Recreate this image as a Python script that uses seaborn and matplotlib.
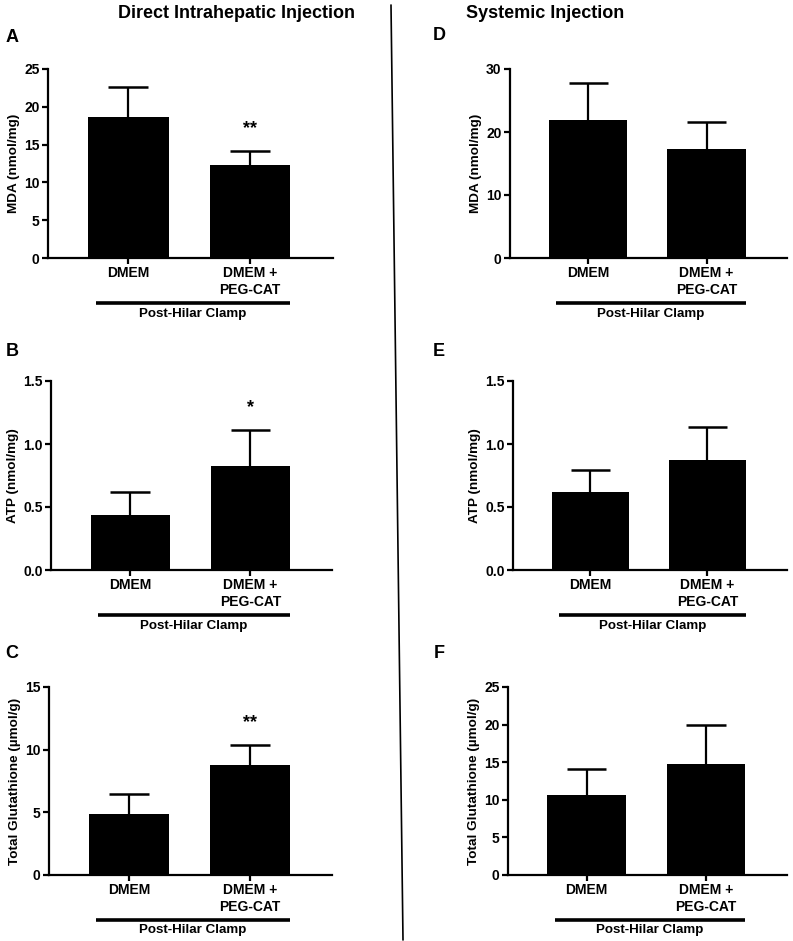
import matplotlib
matplotlib.use("Agg")
import matplotlib.pyplot as plt
import matplotlib.transforms as mtransforms
from matplotlib.lines import Line2D
import numpy as np
import seaborn as sns

# Data
groups = ["DMEM", "DMEM +\nPEG-CAT"]

mda_direct = [18.7, 12.3]
mda_direct_err = [3.95, 1.85]
atp_direct = [0.44, 0.825]
atp_direct_err = [0.18, 0.29]
gsh_direct = [4.87, 8.78]
gsh_direct_err = [1.6, 1.6]

mda_systemic = [21.9, 17.3]
mda_systemic_err = [5.9, 4.3]
atp_systemic = [0.62, 0.875]
atp_systemic_err = [0.17, 0.26]
gsh_systemic = [10.6, 14.75]
gsh_systemic_err = [3.5, 5.2]

# significance marks per panel (one per bar)
stars_A = ["", "**"]
stars_B = ["", "*"]
stars_C = ["", "**"]

sns.set_style("ticks")
plt.rcParams['font.family'] = ['Liberation Sans', 'DejaVu Sans']
plt.rcParams['font.weight'] = 'bold'
plt.rcParams['axes.labelweight'] = 'bold'
for key in ['text.color', 'axes.labelcolor', 'xtick.color', 'ytick.color',
            'axes.edgecolor', 'xtick.labelcolor', 'ytick.labelcolor']:
    plt.rcParams[key] = 'black'

W, H = 793, 941
fig = plt.figure(figsize=(W / 100, H / 100), dpi=100)


def px_rect(left, right, top, bottom):
    return [left / W, 1 - bottom / H, (right - left) / W, (bottom - top) / H]


def draw_panel(rect, values, errs, ylabel, yticks, fmt, stars=None):
    ax = fig.add_axes(rect)
    sns.barplot(x=groups, y=values, color="black", width=0.66,
                saturation=1, errorbar=None, linewidth=0, ax=ax)
    for p in ax.patches:
        p.set_zorder(3)
    # upper-only SEM whiskers
    xs = np.arange(len(values))
    tops = np.array(values) + np.array(errs)
    ax.vlines(xs, values, tops, color="black", lw=1.6, zorder=1)
    ax.hlines(tops, xs - 0.165, xs + 0.165, color="black", lw=1.8, zorder=1)

    ax.set_xlim(-0.66, 1.68)
    ax.set_ylim(yticks[0], yticks[-1])
    ax.set_yticks(yticks)
    ax.set_yticklabels([fmt.format(t) for t in yticks])
    ax.set_ylabel(ylabel, fontsize=9.7, fontweight="bold", labelpad=3)
    ax.tick_params(axis="both", labelsize=10, width=1.6, length=4, pad=2)
    for lab in ax.get_xticklabels() + ax.get_yticklabels():
        lab.set_fontweight("bold")
    sns.despine(ax=ax)
    ax.spines["left"].set_linewidth(1.6)
    ax.spines["bottom"].set_linewidth(1.6)

    if stars:
        for i, s in enumerate(stars):
            if s:
                ax.annotate(s, (i, tops[i]), xytext=(0, 10),
                            textcoords="offset points", ha="center", va="bottom",
                            fontsize=13, fontweight="bold")

    # group bar with "Post-Hilar Clamp"
    h = rect[3] * H
    trans = mtransforms.blended_transform_factory(ax.transData, ax.transAxes)
    ax.add_line(Line2D([-0.27, 1.33], [-45 / h, -45 / h], transform=trans,
                       color="black", lw=2.6, solid_capstyle="butt",
                       clip_on=False))
    ax.text(0.53, -55.5 / h, "Post-Hilar Clamp", transform=trans, ha="center",
            va="center", fontsize=9.6, fontweight="bold")
    return ax


draw_panel(px_rect(48, 333, 69, 258), mda_direct, mda_direct_err,
           "MDA (nmol/mg)", [0, 5, 10, 15, 20, 25], "{:g}", stars_A)
draw_panel(px_rect(51, 332, 381, 570), atp_direct, atp_direct_err,
           "ATP (nmol/mg)", [0.0, 0.5, 1.0, 1.5], "{:.1f}", stars_B)
draw_panel(px_rect(49, 332, 687, 875), gsh_direct, gsh_direct_err,
           "Total Glutathione (µmol/g)", [0, 5, 10, 15], "{:g}", stars_C)

draw_panel(px_rect(510, 787, 69, 258), mda_systemic, mda_systemic_err,
           "MDA (nmol/mg)", [0, 10, 20, 30], "{:g}")
draw_panel(px_rect(513, 787, 381, 570), atp_systemic, atp_systemic_err,
           "ATP (nmol/mg)", [0.0, 0.5, 1.0, 1.5], "{:.1f}")
draw_panel(px_rect(508, 787, 687, 875), gsh_systemic, gsh_systemic_err,
           "Total Glutathione (µmol/g)", [0, 5, 10, 15, 20, 25], "{:g}")

# column titles
fig.text(237 / W, 1 - 13 / H, "Direct Intrahepatic Injection", ha="center",
         va="center", fontsize=13, fontweight="bold")
fig.text(545 / W, 1 - 13 / H, "Systemic Injection", ha="center",
         va="center", fontsize=13, fontweight="bold")

# panel letters
for letter, x, y in [("A", 12, 38), ("B", 12, 351), ("C", 12, 654),
                     ("D", 439, 36), ("E", 439, 352), ("F", 439, 654)]:
    fig.text(x / W, 1 - y / H, letter, ha="center", va="center",
             fontsize=13, fontweight="bold")

# divider between the two columns
fig.add_artist(Line2D([391 / W, 403 / W], [1 - 5 / H, 1 - 940 / H],
                      color="black", lw=1.2))

fig.savefig("out.png", dpi=100)
